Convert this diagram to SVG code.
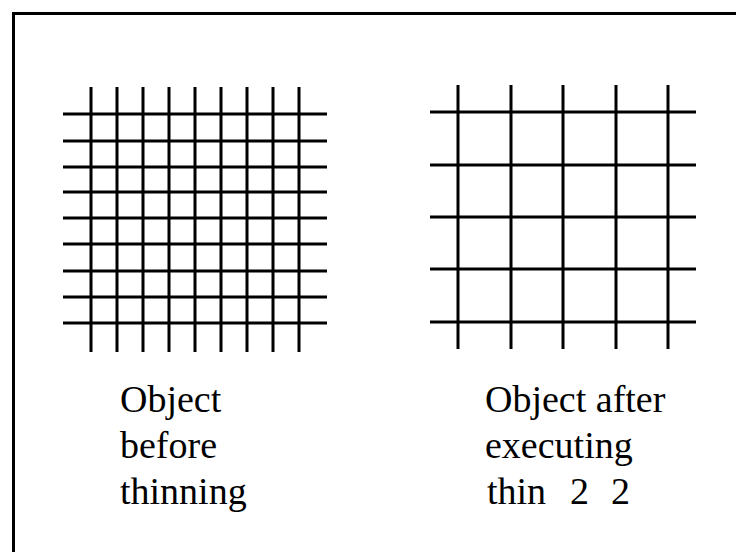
<svg xmlns="http://www.w3.org/2000/svg" width="736" height="552" viewBox="0 0 736 552">
<style>
.g line{stroke:#000;stroke-width:3;stroke-linecap:butt}
.t{font-family:"Liberation Serif","Times New Roman",serif;font-size:38px;fill:#000}
</style>
<rect width="736" height="552" fill="#fff"/>
<path d="M13.5 552 V13.5 H736" fill="none" stroke="#000" stroke-width="3"/>
<g id="before" class="g">
<line x1="91" y1="87" x2="91" y2="352"/>
<line x1="117" y1="87" x2="117" y2="352"/>
<line x1="143" y1="87" x2="143" y2="352"/>
<line x1="169" y1="87" x2="169" y2="352"/>
<line x1="195" y1="87" x2="195" y2="352"/>
<line x1="221" y1="87" x2="221" y2="352"/>
<line x1="247" y1="87" x2="247" y2="352"/>
<line x1="273" y1="87" x2="273" y2="352"/>
<line x1="299" y1="87" x2="299" y2="352"/>
<line x1="63" y1="114" x2="327" y2="114"/>
<line x1="63" y1="141" x2="327" y2="141"/>
<line x1="63" y1="167" x2="327" y2="167"/>
<line x1="63" y1="192" x2="327" y2="192"/>
<line x1="63" y1="218" x2="327" y2="218"/>
<line x1="63" y1="244" x2="327" y2="244"/>
<line x1="63" y1="271" x2="327" y2="271"/>
<line x1="63" y1="297" x2="327" y2="297"/>
<line x1="63" y1="323" x2="327" y2="323"/>
</g>
<g id="after" class="g">
<line x1="458" y1="85" x2="458" y2="349"/>
<line x1="511" y1="85" x2="511" y2="349"/>
<line x1="563" y1="85" x2="563" y2="349"/>
<line x1="616" y1="85" x2="616" y2="349"/>
<line x1="668" y1="85" x2="668" y2="349"/>
<line x1="430" y1="112" x2="696" y2="112"/>
<line x1="430" y1="165" x2="696" y2="165"/>
<line x1="430" y1="217" x2="696" y2="217"/>
<line x1="430" y1="269" x2="696" y2="269"/>
<line x1="430" y1="322" x2="696" y2="322"/>
</g>
<g id="label-before">
<text class="t" x="120" y="412">Object</text>
<text class="t" x="120" y="458">before</text>
<text class="t" x="120" y="504">thinning</text>
</g>
<g id="label-after">
<text class="t" x="485" y="412">Object after</text>
<text class="t" x="485" y="458">executing</text>
<text class="t" y="504"><tspan x="487">thin</tspan><tspan x="570">2</tspan><tspan x="611">2</tspan></text>
</g>
</svg>
